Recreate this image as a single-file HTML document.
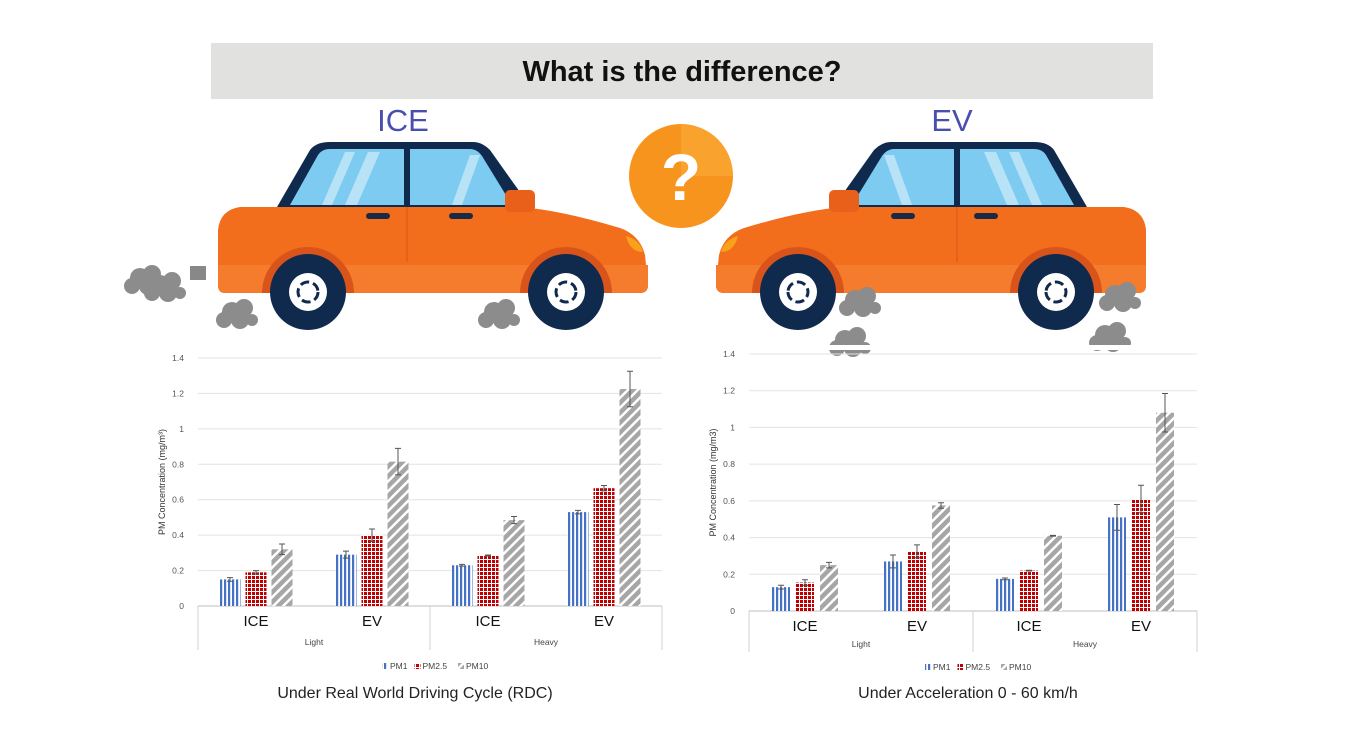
<!DOCTYPE html>
<html><head><meta charset="utf-8">
<style>
html,body{margin:0;padding:0;background:#fff;}
body{width:1350px;height:750px;position:relative;overflow:hidden;font-family:"Liberation Sans",sans-serif;}
.banner{position:absolute;left:211px;top:43px;width:942px;height:56px;background:#e1e1e0;text-align:center;line-height:58px;font-size:29px;font-weight:bold;color:#111;}
.cap{position:absolute;font-size:16px;color:#222;text-align:center;width:400px;}
</style></head><body>
<div class="banner">What is the difference?</div>

<svg width="1350" height="750" style="position:absolute;left:0;top:0">
<defs>
<pattern id="pv" width="4" height="4" patternUnits="userSpaceOnUse"><rect width="4" height="4" fill="#fff"/><rect width="2.2" height="4" fill="#4472c4"/></pattern>
<pattern id="pg" width="4" height="4" patternUnits="userSpaceOnUse"><rect width="4" height="4" fill="#fff"/><rect width="3" height="3" fill="#c00000"/></pattern>
<pattern id="pd" width="7" height="7" patternUnits="userSpaceOnUse" patternTransform="rotate(45)"><rect width="7" height="7" fill="#fff"/><rect width="4.5" height="7" fill="#a6a6a6"/></pattern>
<g id="car">
 <path d="M277 207 L310 150 Q316 142 330 142 L473 142 Q482 142 490 150 L522 195 L522 207 Z" fill="#0f2a4d"/>
 <path d="M290 205 L318 155 Q322 149 330 149 L404 149 L404 205 Z" fill="#7ecbf2"/>
 <path d="M410 149 L470 149 Q477 149 482 156 L512 205 L410 205 Z" fill="#7ecbf2"/>
 <path d="M322 205 L345 152 L355 152 L332 205 Z M345 205 L368 152 L380 152 L357 205Z M452 205 L470 155 L480 155 L462 205Z" fill="#b8e2f6"/>
 <path d="M240 207 L520 207 Q560 210 620 228 Q640 235 645 255 L648 285 Q648 293 640 293 L225 293 Q218 293 218 285 L218 230 Q220 210 240 207 Z" fill="#f26d1c"/>
 <path d="M218 265 L648 265 L648 285 Q648 293 640 293 L225 293 Q218 293 218 285Z" fill="#f47c2c"/>
 <rect x="505" y="190" width="30" height="22" rx="5" fill="#e8601a"/>
 <rect x="366" y="213" width="24" height="6" rx="3" fill="#1b2a44"/>
 <rect x="449" y="213" width="24" height="6" rx="3" fill="#1b2a44"/>
 <path d="M626 236 Q640 240 643 252 Q630 252 626 236Z" fill="#f9a11b"/>
 <line x1="407" y1="207" x2="407" y2="262" stroke="#e25f17" stroke-width="1.5"/>
 <path d="M262 293 A46 46 0 0 1 354 293Z M520 293 A46 46 0 0 1 612 293Z" fill="#d9541a"/>
 <circle cx="308" cy="292" r="38" fill="#0f2a4d"/><circle cx="308" cy="292" r="19" fill="#fff"/><circle cx="308" cy="292" r="10" fill="none" stroke="#0f2a4d" stroke-width="3" stroke-dasharray="9 4"/>
 <circle cx="566" cy="292" r="38" fill="#0f2a4d"/><circle cx="566" cy="292" r="19" fill="#fff"/><circle cx="566" cy="292" r="10" fill="none" stroke="#0f2a4d" stroke-width="3" stroke-dasharray="9 4"/>
</g>
<g id="smoke"><circle cx="0" cy="0" r="10" fill="#8c8c8c"/><circle cx="12" cy="-4" r="9" fill="#8c8c8c"/><circle cx="8" cy="8" r="9" fill="#8c8c8c"/><circle cx="-8" cy="8" r="8" fill="#8c8c8c"/><circle cx="20" cy="8" r="6" fill="#8c8c8c"/></g>
</defs>
<use href="#car"/>
<use href="#car" transform="translate(1364,0) scale(-1,1)"/>
<rect x="190" y="266" width="16" height="14" fill="#888"/>
<use href="#smoke" x="140" y="278"/><use href="#smoke" x="160" y="285"/>
<use href="#smoke" x="232" y="312"/><use href="#smoke" x="494" y="312"/>
<use href="#smoke" x="855" y="300"/><use href="#smoke" x="1115" y="295"/>
<use href="#smoke" x="845" y="340"/><use href="#smoke" x="1105" y="335"/>
<rect x="820" y="345" width="400" height="5" fill="#fff"/>
<text x="403" y="131" font-size="31" fill="#4a4fae" text-anchor="middle" font-family="Liberation Sans">ICE</text>
<text x="952" y="131" font-size="31" fill="#4a4fae" text-anchor="middle" font-family="Liberation Sans">EV</text>
<g>
<circle cx="681" cy="176" r="52" fill="#f7941d"/>
<path d="M681 124 A52 52 0 0 1 733 176 L681 176Z" fill="#fbab3a" opacity="0.6"/>
<text x="681" y="200" font-size="66" font-weight="bold" fill="#fff" text-anchor="middle" font-family="Liberation Sans">?</text>
</g>
<g id="chart1"></g><g id="chart2"></g>
</svg>
<div class="cap" style="left:215px;top:685px">Under Real World Driving Cycle (RDC)</div>
<div class="cap" style="left:768px;top:685px">Under Acceleration 0 - 60 km/h</div>
<script>
const categories = ["ICE","EV","ICE","EV"];
const groups = ["Light","Heavy"];
const seriesNames = ["PM1","PM2.5","PM10"];
const yTicks = [0,0.2,0.4,0.6,0.8,1,1.2,1.4];
const rdcPM1 = [0.15,0.29,0.23,0.53];
const rdcPM25 = [0.19,0.40,0.285,0.665];
const rdcPM10 = [0.32,0.815,0.485,1.225];
const rdcErr1 = [0.01,0.02,0.005,0.01];
const rdcErr25 = [0.01,0.035,0.003,0.015];
const rdcErr10 = [0.03,0.075,0.02,0.1];
const accPM1 = [0.13,0.27,0.175,0.51];
const accPM25 = [0.155,0.325,0.22,0.61];
const accPM10 = [0.25,0.575,0.41,1.08];
const accErr1 = [0.01,0.035,0.005,0.07];
const accErr25 = [0.015,0.035,0.002,0.075];
const accErr10 = [0.015,0.015,0.002,0.105];
const NS="http://www.w3.org/2000/svg";
function mk(p,tag,a,txt){const e=document.createElementNS(NS,tag);for(const k in a)e.setAttribute(k,a[k]);if(txt!=null)e.textContent=txt;p.appendChild(e);return e;}
function draw(id,cfg,vals,errs,title){
 const g=document.getElementById(id);
 const y=v=>cfg.y0-(v/1.4)*(cfg.y0-cfg.yTop);
 const cw=(cfg.x1-cfg.x0)/categories.length;
 const x=i=>cfg.x0+cw*(i+0.5);
 yTicks.forEach(t=>{
  const l=mk(g,'line',{x1:cfg.x0,x2:cfg.x1,y1:y(t),y2:y(t),stroke:t===0?'#bfbfbf':'#e3e3e3','stroke-width':1});
  
  
  const tx=mk(g,'text',{x:cfg.x0-14,y:y(t)+3,'font-size':8.5,fill:'#555','text-anchor':'end'},String(t));
  
  
 });
 const yt=mk(g,'text',{x:0,y:0,'font-size':9,fill:'#333','text-anchor':'middle',transform:`translate(${cfg.x0-33},${(cfg.y0+cfg.yTop)/2}) rotate(-90)`},title);
 
 
 [cfg.x0,(cfg.x0+cfg.x1)/2,cfg.x1].forEach(xx=>{mk(g,'line',{x1:xx,x2:xx,y1:cfg.y0,y2:cfg.yb,stroke:'#d0d0d0'});});
 const fills=['url(#pv)','url(#pg)','url(#pd)'];
 categories.forEach((c,i)=>{
  vals.forEach((s,k)=>{
   const bx=x(i)+(k-1)*(cfg.bw+cfg.gap)-cfg.bw/2;
   const r=mk(g,'rect',{x:bx,y:y(s[i]),width:cfg.bw,height:cfg.y0-y(s[i]),fill:fills[k]});
   
   
   const cx=bx+cfg.bw/2,e=errs[k][i];
   mk(g,'path',{d:`M${cx} ${y(s[i]+e)}V${y(s[i]-e)}M${cx-3} ${y(s[i]+e)}H${cx+3}M${cx-3} ${y(s[i]-e)}H${cx+3}`,stroke:'#555','stroke-width':1,fill:'none'});
  });
  const cl=mk(g,'text',{x:x(i),y:cfg.catY,'font-size':15,fill:'#111','text-anchor':'middle'},c);
  
  
 });
 groups.forEach((gn,j)=>{
  const gl=mk(g,'text',{x:cfg.x0+cw*(2*j+1),y:cfg.grpY,'font-size':8.5,fill:'#444','text-anchor':'middle'},gn);
  
  
 });
 let lx=(cfg.x0+cfg.x1)/2-48;
 seriesNames.forEach((n,k)=>{
  const sw=mk(g,'rect',{x:lx,y:cfg.legY-6,width:6,height:6,fill:fills[k]});
  
  
  const lt=mk(g,'text',{x:lx+8,y:cfg.legY,'font-size':8.5,fill:'#444'},n);
  
  
  lx+=8+n.length*5.5+8;
 });
}
draw('chart1',{x0:198,x1:662,y0:606,yTop:358,yb:650,bw:21,gap:5,catY:626,grpY:645,legY:669},[rdcPM1,rdcPM25,rdcPM10],[rdcErr1,rdcErr25,rdcErr10],'PM Concentration (mg/m³)');
draw('chart2',{x0:749,x1:1197,y0:611,yTop:354,yb:652,bw:18,gap:6,catY:631,grpY:647,legY:670},[accPM1,accPM25,accPM10],[accErr1,accErr25,accErr10],'PM Concentration (mg/m3)');
</script>
</body></html>
